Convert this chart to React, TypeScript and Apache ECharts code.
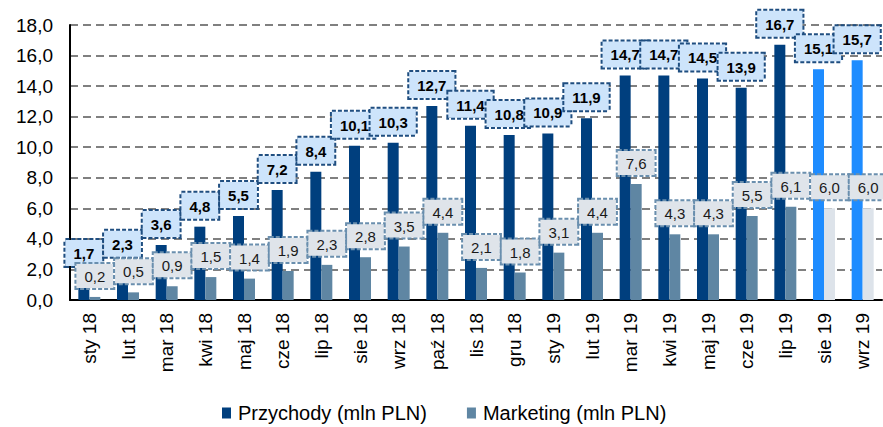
import React, { useEffect, useRef } from "react";
import * as echarts from "echarts";

const categories = [
  "sty 18", "lut 18", "mar 18", "kwi 18", "maj 18", "cze 18", "lip 18", "sie 18", "wrz 18", "paź 18",
  "lis 18", "gru 18", "sty 19", "lut 19", "mar 19", "kwi 19", "maj 19", "cze 19", "lip 19", "sie 19", "wrz 19",
];
const przychody = [1.7, 2.3, 3.6, 4.8, 5.5, 7.2, 8.4, 10.1, 10.3, 12.7, 11.4, 10.8, 10.9, 11.9, 14.7, 14.7, 14.5, 13.9, 16.7, 15.1, 15.7];
const marketing = [0.2, 0.5, 0.9, 1.5, 1.4, 1.9, 2.3, 2.8, 3.5, 4.4, 2.1, 1.8, 3.1, 4.4, 7.6, 4.3, 4.3, 5.5, 6.1, 6.0, 6.0];
const forecast = [false, false, false, false, false, false, false, false, false, false, false, false, false, false, false, false, false, false, false, true, true];
const seriesNames = ["Przychody (mln PLN)", "Marketing (mln PLN)"];

const FONT = "'Liberation Sans', Arial, sans-serif";
const fmt = (v: number) => v.toFixed(1).replace(".", ",");

export default function App() {
  const ref = useRef<HTMLDivElement>(null);
  useEffect(() => {
    if (!ref.current) return;
    const chart = echarts.init(ref.current, null, { renderer: "svg" });
    chart.setOption({
      animation: false,
      textStyle: { fontFamily: FONT },
      grid: { left: 70, right: 1, top: 25, bottom: 127 },
      legend: {
        left: 222,
        top: 403,
        padding: 0,
        itemWidth: 9,
        itemHeight: 11,
        itemGap: 40,
        icon: "rect",
        textStyle: { fontSize: 20, lineHeight: 20, color: "#000", fontFamily: FONT, padding: [0, 0, 0, 2] },
        data: seriesNames,
      },
      xAxis: {
        type: "category",
        data: categories,
        axisLine: { show: true, lineStyle: { color: "#000", width: 2 } },
        axisTick: { show: false },
        axisLabel: { rotate: 90, fontSize: 19, color: "#000", margin: 13, fontFamily: FONT, interval: 0 },
      },
      yAxis: {
        type: "value",
        min: 0,
        max: 18,
        interval: 2,
        axisLine: { show: true, lineStyle: { color: "#000", width: 2 } },
        axisTick: { show: false },
        axisLabel: { fontSize: 19, color: "#000", margin: 17, fontFamily: FONT, formatter: (v: number) => fmt(v) },
        splitLine: { show: true, lineStyle: { color: "#808080", width: 2, type: [8, 5] } },
      },
      series: [
        {
          name: seriesNames[0],
          type: "bar",
          barWidth: 11,
          barGap: "0%",
          itemStyle: { color: "#003f7e" },
          data: przychody.map((v, i) => ({
            value: v,
            itemStyle: { color: forecast[i] ? "#1e8cff" : "#003f7e" },
          })),
          label: {
            show: true,
            position: "top",
            distance: 8,
            formatter: (p: any) => fmt(p.value),
            fontSize: 15,
            fontWeight: "bold",
            color: "#000",
            fontFamily: FONT,
            backgroundColor: "#cde4fb",
            borderColor: "#1f4e80",
            borderWidth: 2,
            borderType: [4, 2],
            padding: [6, 8, 5, 8],
          },
        },
        {
          name: seriesNames[1],
          type: "bar",
          barWidth: 11,
          barGap: "0%",
          itemStyle: { color: "#5f86a3" },
          data: marketing.map((v, i) => ({
            value: v,
            itemStyle: { color: forecast[i] ? "#dde3ea" : "#5f86a3" },
          })),
          label: {
            show: true,
            position: "top",
            distance: 9,
            formatter: (p: any) => fmt(p.value),
            fontSize: 15,
            color: "#1a1a1a",
            fontFamily: FONT,
            backgroundColor: "#dfe4ea",
            borderColor: "#6a8fae",
            borderWidth: 2,
            borderType: [4, 2],
            padding: [5, 8, 4, 8],
          },
        },
      ],
    });
    return () => chart.dispose();
  }, []);
  return <div ref={ref} style={{ width: 883, height: 427, position: "absolute", left: 0, top: 0 }} />;
}
